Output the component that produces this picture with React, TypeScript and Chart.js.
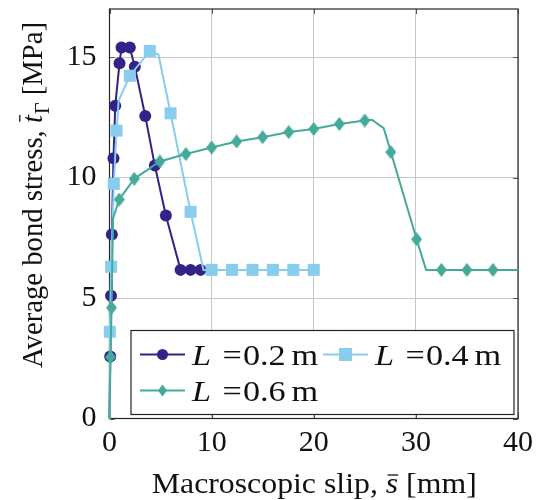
import React, { useEffect, useRef } from "react";
import { Chart, registerables } from "chart.js";
Chart.register(...registerables);

// ---- data ----
const X_TICKS = [0, 10, 20, 30, 40];
const Y_TICKS = [0, 5, 10, 15];
const X_MAX = 40;
const Y_MAX = 17;
const SERIES_LABELS = ["0.2", "0.4", "0.6"];

const L02_X = [0, 0.07, 0.15, 0.23, 0.39, 0.56, 0.98, 1.18, 1.99, 2.48, 3.5, 4.44, 5.52, 6.96, 7.94, 8.92];
const L02_Y = [0, 2.57, 5.1, 7.64, 10.8, 12.98, 14.75, 15.4, 15.4, 14.6, 12.56, 10.5, 8.43, 6.17, 6.17, 6.17];
const L02_UNMARKED = [0];

const L04_X = [0, 0.03, 0.16, 0.42, 0.69, 0.9, 1.99, 3.95, 4.8, 5.98, 7.94, 9.2, 10, 12, 14, 16, 18, 20];
const L04_Y = [0, 3.6, 6.3, 9.74, 11.95, 13.2, 14.23, 15.26, 15.1, 12.67, 8.58, 6.17, 6.17, 6.17, 6.17, 6.17, 6.17, 6.17];
const L04_UNMARKED = [0, 5, 8, 11];

const L06_X = [0, 0.1, 0.2, 0.35, 0.95, 2.42, 4.93, 7.48, 10, 12.45, 15, 17.55, 20, 22.5, 25, 25.7, 26.85, 27.55, 30.07, 31.0, 32.5, 35, 37.55, 40];
const L06_Y = [0, 2.55, 4.6, 8.3, 9.09, 9.95, 10.67, 10.98, 11.25, 11.5, 11.68, 11.89, 12.02, 12.23, 12.37, 12.4, 12.05, 11.06, 7.44, 6.17, 6.17, 6.17, 6.17, 6.17];
const L06_UNMARKED = [0, 3, 15, 16, 19, 23];

// ---- styles ----
const COLORS = ["#332288", "#88CCEE", "#44AA99"];
const FAMILY = "Liberation Serif, Times New Roman, Times, serif";
const FS = 30;

type Seg = { t: string; italic?: boolean; sub?: boolean; bar?: boolean; gap?: number };

const X_TITLE: Seg[] = [
  { t: "Macroscopic slip, " },
  { t: "s", italic: true, bar: true },
  { t: " [mm]" },
];
const Y_TITLE: Seg[] = [
  { t: "Average bond stress, " },
  { t: "t", italic: true, bar: true, gap: 1 },
  { t: "Γ", sub: true },
  { t: " [MPa]" },
];

function segFont(s: Seg, size: number) {
  const sz = s.sub ? Math.round(size * 0.7) : size;
  return `${s.italic ? "italic " : ""}${sz}px ${FAMILY}`;
}

function measureRich(ctx: CanvasRenderingContext2D, segs: Seg[], size: number) {
  let w = 0;
  for (const s of segs) {
    ctx.font = segFont(s, size);
    w += ctx.measureText(s.t).width + (s.gap || 0);
  }
  return w;
}

// draws with left at x, baseline at y; optional target width (horizontal scale)
function drawRich(ctx: CanvasRenderingContext2D, segs: Seg[], size: number, x: number, y: number, target?: number) {
  const w = measureRich(ctx, segs, size);
  const k = target ? target / w : 1;
  ctx.save();
  ctx.translate(x, y);
  ctx.scale(k, 1);
  ctx.textBaseline = "alphabetic";
  ctx.textAlign = "left";
  ctx.fillStyle = "#111";
  let cx = 0;
  for (const s of segs) {
    ctx.font = segFont(s, size);
    const dy = s.sub ? size * 0.22 : 0;
    ctx.fillText(s.t, cx, dy);
    const sw = ctx.measureText(s.t).width;
    if (s.bar) {
      ctx.strokeStyle = "#111";
      ctx.lineWidth = 1.3;
      ctx.beginPath();
      const by = -size * (s.t === "t" ? 0.74 : 0.6);
      ctx.moveTo(cx + sw * 0.15, by);
      ctx.lineTo(cx + sw * 1.0, by);
      ctx.stroke();
    }
    cx += sw + (s.gap || 0);
  }
  ctx.restore();
  return w * k;
}

function makeDiamond(w: number, h: number, color: string) {
  const c = document.createElement("canvas");
  c.width = w;
  c.height = h;
  const g = c.getContext("2d")!;
  g.fillStyle = color;
  g.beginPath();
  g.moveTo(w / 2, 0);
  g.lineTo(w, h / 2);
  g.lineTo(w / 2, h);
  g.lineTo(0, h / 2);
  g.closePath();
  g.fill();
  return c;
}

function drawMarker(ctx: CanvasRenderingContext2D, kind: number, x: number, y: number) {
  ctx.fillStyle = COLORS[kind];
  ctx.beginPath();
  if (kind === 0) {
    ctx.arc(x, y, 5.5, 0, Math.PI * 2);
  } else if (kind === 1) {
    ctx.rect(x - 6.5, y - 6.5, 13, 13);
  } else {
    ctx.moveTo(x, y - 6);
    ctx.lineTo(x + 4.5, y);
    ctx.lineTo(x, y + 6);
    ctx.lineTo(x - 4.5, y);
    ctx.closePath();
  }
  ctx.fill();
}

function legendEntry(ctx: CanvasRenderingContext2D, kind: number, x: number, y: number) {
  ctx.strokeStyle = COLORS[kind];
  ctx.lineWidth = 2;
  ctx.beginPath();
  ctx.moveTo(x, y);
  ctx.lineTo(x + 45, y);
  ctx.stroke();
  drawMarker(ctx, kind, x + 22.5, y);
  const segs: Seg[] = [
    { t: "L", italic: true, gap: 10 },
    { t: "=", gap: 1 },
    { t: SERIES_LABELS[kind], gap: 5 },
    { t: "m" },
  ];
  drawRich(ctx, segs, FS, x + 52, y + 10, 126);
}

const decor = {
  id: "decor",
  beforeDatasetsDraw(chart: any) {
    const { ctx, chartArea: a, scales } = chart;
    ctx.save();
    // inward ticks on all four sides
    ctx.strokeStyle = "#555";
    ctx.lineWidth = 1;
    const tl = 5;
    ctx.beginPath();
    for (const v of X_TICKS) {
      const px = Math.round(scales.x.getPixelForValue(v)) + 0.5;
      ctx.moveTo(px, a.bottom);
      ctx.lineTo(px, a.bottom - tl);
      ctx.moveTo(px, a.top);
      ctx.lineTo(px, a.top + tl);
    }
    for (const v of Y_TICKS) {
      const py = Math.round(scales.y.getPixelForValue(v)) + 0.5;
      ctx.moveTo(a.left, py);
      ctx.lineTo(a.left + tl, py);
      ctx.moveTo(a.right, py);
      ctx.lineTo(a.right - tl, py);
    }
    ctx.stroke();
    ctx.strokeStyle = "#262626";
    ctx.lineWidth = 1.2;
    ctx.strokeRect(a.left, a.top, a.right - a.left, a.bottom - a.top);
    ctx.restore();
  },
  afterDatasetsDraw(chart: any) {
    const { ctx, chartArea: a } = chart;
    ctx.save();
    // legend
    const bw = 383, bh = 84;
    const bx = a.right - 4 - bw;
    const by = a.bottom - 4 - bh;
    ctx.fillStyle = "#fff";
    ctx.fillRect(bx, by, bw, bh);
    ctx.strokeStyle = "#222";
    ctx.lineWidth = 1.2;
    ctx.strokeRect(bx, by, bw, bh);
    legendEntry(ctx, 0, bx + 9, by + 24);
    legendEntry(ctx, 1, bx + 192, by + 24);
    legendEntry(ctx, 2, bx + 9, by + 60);
    // titles
    drawRich(ctx, X_TITLE, FS, (a.left + a.right) / 2 - 162, 493, 325);
    ctx.save();
    ctx.translate(42, 195);
    ctx.rotate(-Math.PI / 2);
    drawRich(ctx, Y_TITLE, FS, -173, 0, 346);
    ctx.restore();
    ctx.restore();
  },
};

function mkData(xs: number[], ys: number[]) {
  return xs.map((x, i) => ({ x, y: ys[i] }));
}

export default function App() {
  const ref = useRef<HTMLCanvasElement | null>(null);
  useEffect(() => {
    if (!ref.current) return;
    const diamond = makeDiamond(11, 14, COLORS[2]);
    const radii = (xs: number[], un: number[], r: number) => xs.map((_, i) => (un.includes(i) ? 0 : r));
    const chart = new Chart(ref.current, {
      type: "line",
      data: {
        datasets: [
          {
            label: "L = 0.2 m",
            data: mkData(L02_X, L02_Y),
            borderColor: COLORS[0],
            backgroundColor: COLORS[0],
            borderWidth: 2,
            pointStyle: "circle",
            pointRadius: radii(L02_X, L02_UNMARKED, 6),
            pointBorderWidth: 0,
            order: 2,
            clip: false as any,
          },
          {
            label: "L = 0.4 m",
            data: mkData(L04_X, L04_Y),
            borderColor: COLORS[1],
            backgroundColor: COLORS[1],
            borderWidth: 2,
            pointStyle: "rect",
            pointRadius: radii(L04_X, L04_UNMARKED, 8.5),
            pointBorderWidth: 0,
            order: 1,
            clip: false as any,
          },
          {
            label: "L = 0.6 m",
            data: mkData(L06_X, L06_Y),
            borderColor: COLORS[2],
            backgroundColor: COLORS[2],
            borderWidth: 2,
            pointStyle: diamond as any,
            pointRadius: radii(L06_X, L06_UNMARKED, 6),
            pointBorderWidth: 0,
            order: 0,
            clip: false as any,
          },
        ],
      },
      options: {
        animation: false,
        responsive: false,
        events: [],
        layout: { padding: { left: 0, right: 29, top: 9, bottom: 0 } },
        plugins: { legend: { display: false }, tooltip: { enabled: false } },
        elements: { line: { tension: 0 } },
        scales: {
          x: {
            type: "linear",
            min: 0,
            max: X_MAX,
            border: { display: false },
            grid: { color: "#c8c8c8", lineWidth: 1, drawTicks: false },
            ticks: {
              color: "#111",
              font: { family: FAMILY, size: FS },
              padding: 7,
              maxRotation: 0,
            },
            afterBuildTicks: (s: any) => {
              s.ticks = X_TICKS.map((v) => ({ value: v }));
            },
            afterFit: (s: any) => {
              s.height = 81.5;
              s.paddingLeft = 0;
              s.paddingRight = 0;
            },
          },
          y: {
            type: "linear",
            min: 0,
            max: Y_MAX,
            border: { display: false },
            grid: { color: "#c8c8c8", lineWidth: 1, drawTicks: false },
            ticks: {
              color: "#111",
              font: { family: FAMILY, size: FS },
              padding: 13,
            },
            afterBuildTicks: (s: any) => {
              s.ticks = Y_TICKS.map((v) => ({ value: v }));
            },
            afterFit: (s: any) => {
              s.width = 109.5;
              s.paddingTop = 0;
              s.paddingBottom = 0;
            },
          },
        },
      },
      plugins: [decor],
    });
    return () => chart.destroy();
  }, []);
  return (
    <div style={{ position: "fixed", left: 0, top: 0, width: 547, height: 500, background: "#fff" }}>
      <canvas ref={ref} width={547} height={500} />
    </div>
  );
}
